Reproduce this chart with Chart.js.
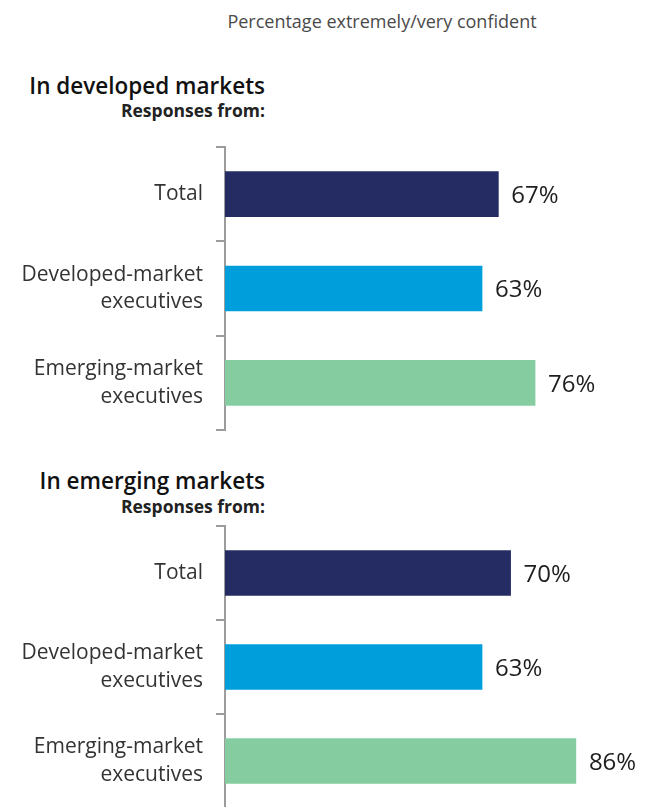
<!DOCTYPE html>
<html>
<head>
<meta charset="utf-8">
<script src="https://cdn.jsdelivr.net/npm/chart.js@4"></script>
<style>
  html, body { margin: 0; padding: 0; background: #fff; overflow: hidden; }
  #page { position: relative; width: 652px; height: 807px; overflow: hidden; font-family: "Open Sans", sans-serif; }
  .txt { position: absolute; white-space: nowrap; line-height: 1; }
  .title { left: 0; width: 764px; text-align: center; top: 12px; font-size: 18px; color: #4a4a4a; }
  .head { right: 387px; text-align: right; font-size: 22.5px; font-weight: 600; color: #111; }
  .sub { right: 387px; text-align: right; font-size: 17.5px; font-weight: 700; color: #222; }
  canvas { position: absolute; left: 0; }
</style>
</head>
<body>
<div id="page">
  <div class="txt title">Percentage extremely/very confident</div>
  <div class="txt head" style="top:75px">In developed markets</div>
  <div class="txt sub" style="top:102px">Responses from:</div>
  <canvas id="chart-developed" width="652" height="303" style="top:137px"></canvas>
  <div class="txt head" style="top:470px">In emerging markets</div>
  <div class="txt sub" style="top:498px">Responses from:</div>
  <canvas id="chart-emerging" width="652" height="302" style="top:516px"></canvas>
</div>
<script>
// data
const categories = ['Total', ['Developed-market', 'executives'], ['Emerging-market', 'executives']];
const developedMarkets = [67, 63, 76];
const emergingMarkets = [70, 63, 86];
const barColors = ['#252b63', '#009fdb', '#86cca1'];

// draws "67%" etc. just right of each bar
const valueLabels = {
  id: 'valueLabels',
  afterDatasetsDraw(chart) {
    const ctx = chart.ctx;
    const values = chart.data.datasets[0].data;
    ctx.save();
    ctx.font = '24px "Open Sans"';
    ctx.fillStyle = '#1e1e1e';
    ctx.textAlign = 'left';
    ctx.textBaseline = 'middle';
    chart.getDatasetMeta(0).data.forEach((bar, i) => {
      ctx.fillText(values[i] + '%', bar.x + 13, bar.y + 2);
    });
    ctx.restore();
  }
};

function buatChart(id, values) {
  const ctx = document.getElementById(id).getContext('2d');
  return new Chart(ctx, {
    type: 'bar',
    data: {
      labels: categories,
      datasets: [{
        data: values,
        backgroundColor: barColors,
        borderWidth: 0,
        barThickness: 45
      }]
    },
    options: {
      indexAxis: 'y',
      responsive: false,
      animation: false,
      layout: { padding: { top: 10, bottom: 10, left: 0, right: 19 } },
      plugins: {
        legend: { display: false },
        tooltip: { enabled: false }
      },
      scales: {
        x: { min: 0, max: 100, display: false },
        y: {
          afterFit: (scale) => {
            // fixed axis position, no extra room for the labels
            scale.width = 225;
            scale.paddingTop = 0;
            scale.paddingBottom = 0;
            scale.paddingLeft = 0;
            scale.paddingRight = 0;
          },
          border: { display: true, color: '#9c9c9c', width: 2 },
          grid: {
            offset: true,
            drawOnChartArea: false,
            drawTicks: true,
            tickLength: 9,
            color: '#9c9c9c',
            lineWidth: 2
          },
          ticks: {
            padding: 13,
            color: '#333',
            font: { family: 'Open Sans', size: 21, lineHeight: 1.33 }
          }
        }
      }
    },
    plugins: [valueLabels]
  });
}

buatChart('chart-developed', developedMarkets);
buatChart('chart-emerging', emergingMarkets);
</script>
</body>
</html>
